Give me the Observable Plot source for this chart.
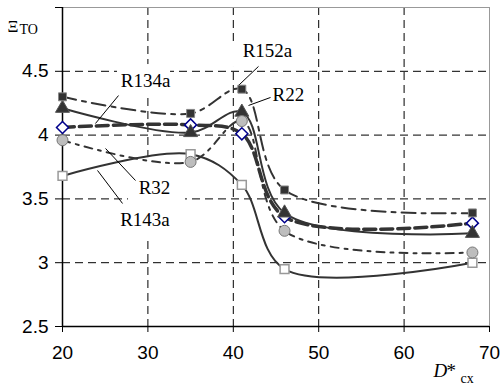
<!DOCTYPE html>
<html><head><meta charset="utf-8">
<script src="https://cdn.jsdelivr.net/npm/d3@7"></script>
<script src="https://cdn.jsdelivr.net/npm/@observablehq/plot@0.6"></script>
<style>
body{margin:0;background:#fff}
#chart{width:500px;height:388px}
#chart svg text{font-family:"Liberation Sans",Arial,sans-serif}
#chart svg .serif text, #chart svg text.serif{font-family:"Liberation Serif","Times New Roman",serif !important}
</style>
</head><body><div id="chart"></div>
<script>
// data
const dcx   = [20, 35, 41, 46, 68];
const r152a = [4.30, 4.17, 4.36, 3.57, 3.39];
const r22   = [4.21, 4.02, 4.18, 3.39, 3.23];
const r134a = [4.06, 4.08, 4.01, 3.36, 3.31];
const r32   = [3.96, 3.79, 4.11, 3.25, 3.08];
const r143a = [3.68, 3.85, 3.61, 2.95, 3.00];
const seriesNames = ["R143a", "R134a", "R22", "R32", "R152a"];
const seriesValues = [r143a, r134a, r22, r32, r152a];
const xTicks = [20, 30, 40, 50, 60, 70];
const yTicks = [2.5, 3, 3.5, 4, 4.5, 5];

// annotation labels (data coordinates)
const labelText = ["R152a", "R22", "R134a", "R32", "R143a"];
const labelX = [44.0, 46.46, 29.72, 30.77, 29.66];
const labelY = [4.663, 4.314, 4.428, 3.585, 3.339];
const leaderX1 = [42.95, 44.36, 26.56, 25.04, 24.10];
const leaderY1 = [4.538, 4.295, 4.310, 3.895, 3.723];
const leaderX2 = [40.61, 41.78, 23.86, 28.55, 27.03];
const leaderY2 = [4.389, 4.232, 4.091, 3.644, 3.464];
// white label boxes (data coordinates)
const boxX1 = [39.67, 26.44, 27.73, 26.32];
const boxX2 = [47.87, 32.65, 34.40, 32.88];
const boxY1 = [4.530, 4.295, 3.480, 3.190];
const boxY2 = [4.710, 4.553, 3.824, 3.480];

const styles = {
  R143a: {stroke: "#333", width: 2, dash: null, symbol: "square", r: 5, fill: "#fff", mstroke: "#999", msw: 1.5},
  R134a: {stroke: "#333", width: 3.5, dash: "12,5", symbol: "diamond2", r: 5.4, fill: "#fff", mstroke: "#00008b", msw: 1.5},
  R22:   {stroke: "#333", width: 2, dash: null, symbol: "triangle", r: 5.2, fill: "#333", mstroke: "#555", msw: 1},
  R32:   {stroke: "#333", width: 2, dash: "8,6,3,6", symbol: "circle", r: 5.5, fill: "#bdbdbd", mstroke: "#777", msw: 1},
  R152a: {stroke: "#333", width: 2, dash: "14,6,4,6", symbol: "square", r: 4.5, fill: "#333", mstroke: "#888", msw: 1}
};

const rows = seriesNames.flatMap((n, i) => dcx.map((x, j) => ({series: n, x, y: seriesValues[i][j]})));
const labels = labelText.map((t, i) => ({t, x: labelX[i], y: labelY[i], x1: leaderX1[i], y1: leaderY1[i], x2: leaderX2[i], y2: leaderY2[i]}));
const boxes = boxX1.map((v, i) => ({x1: v, x2: boxX2[i], y1: boxY1[i], y2: boxY2[i]}));

const serif = "Liberation Serif";
const marks = [
  Plot.gridX(xTicks.filter(d => d > 20 && d < 70), {stroke: "#000", strokeOpacity: 1, strokeDasharray: "8,5", strokeWidth: 1}),
  Plot.gridY(yTicks.filter(d => d > 2.5 && d < 5), {stroke: "#000", strokeOpacity: 1, strokeDasharray: "8,5", strokeWidth: 1}),
  Plot.rect(boxes, {x1: "x1", x2: "x2", y1: "y1", y2: "y2", fill: "#fff"}),
  Plot.frame({stroke: "#999"}),
  Plot.ruleX([20], {stroke: "#000", strokeWidth: 1.5}),
  Plot.ruleY([2.5], {stroke: "#000", strokeWidth: 1.5}),
  Plot.axisX({ticks: xTicks, tickSize: 6, tickPadding: 13, fontSize: 19, fill: "#000", label: null}),
  Plot.axisY({ticks: yTicks, tickSize: 7, tickPadding: 7, fontSize: 19, fill: "#000", label: null, tickFormat: d => d === 5 ? "" : String(d)})
];
for (const n of seriesNames) {
  const s = styles[n];
  marks.push(Plot.line(rows.filter(d => d.series === n), {x: "x", y: "y", curve: "catmull-rom", stroke: s.stroke, strokeWidth: s.width, strokeDasharray: s.dash}));
}
marks.push(Plot.link(labels, {x1: "x1", y1: "y1", x2: "x2", y2: "y2", stroke: "#000", strokeWidth: 1}));
for (const n of seriesNames) {
  const s = styles[n];
  marks.push(Plot.dot(rows.filter(d => d.series === n), {x: "x", y: "y", symbol: s.symbol, r: s.r, fill: s.fill, stroke: s.mstroke, strokeWidth: s.msw}));
}
marks.push(Plot.text(labels, {x: "x", y: "y", text: "t", fontSize: 19, fontFamily: serif, fill: "#000", className: "serif"}));
// axis titles
marks.push(Plot.text(["Ξ"], {frameAnchor: "top-left", dx: -55, dy: 12, textAnchor: "start", fontSize: 17, fontFamily: serif, fill: "#000", className: "serif"}));
marks.push(Plot.text(["TO"], {frameAnchor: "top-left", dx: -43, dy: 17, textAnchor: "start", fontSize: 14, fontFamily: serif, fill: "#000", className: "serif"}));
marks.push(Plot.text(["D"], {frameAnchor: "bottom-right", dx: -56, dy: 50.5, textAnchor: "start", fontSize: 19, fontStyle: "italic", fontFamily: serif, fill: "#000", className: "serif"}));
marks.push(Plot.text(["*"], {frameAnchor: "bottom-right", dx: -43, dy: 50.5, textAnchor: "start", fontSize: 19, fontFamily: serif, fill: "#000", className: "serif"}));
marks.push(Plot.text(["cx"], {frameAnchor: "bottom-right", dx: -29, dy: 56, textAnchor: "start", fontSize: 14, fontFamily: serif, fill: "#000", className: "serif"}));

const chart = Plot.plot({
  width: 500, height: 388,
  marginLeft: 62, marginRight: 11, marginTop: 7, marginBottom: 62,
  x: {domain: [20, 70]},
  y: {domain: [2.5, 5]},
  style: {background: "#fff", overflow: "visible"},
  marks
});
document.getElementById("chart").appendChild(chart);
</script></body></html>
